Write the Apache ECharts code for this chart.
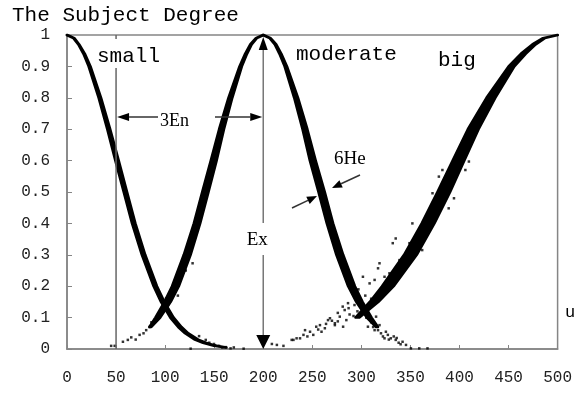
<!DOCTYPE html>
<html>
<head>
<meta charset="utf-8">
<script src="https://cdn.jsdelivr.net/npm/echarts@6/dist/echarts.min.js"></script>
<style>
html, body { margin: 0; padding: 0; background: #fff; }
#chart { width: 575px; height: 394px; }
</style>
</head>
<body>
<div id="chart"></div>
<script>
var degreeLevels = [1, 0.99, 0.97, 0.94, 0.9, 0.8, 0.7, 0.6, 0.5, 0.4, 0.3, 0.2, 0.15, 0.1, 0.07, 0.05, 0.03, 0.02, 0.01, 0.005];
// centre u of each band at those levels, and the band's width in u
var smallX = [0, 7, 12, 17.5, 23, 33.5, 42.5, 51, 59.5, 68, 78, 90, 97.5, 107, 115, 122, 132, 140, 151, 162];
var smallW = [0.5, 1, 1, 1.5, 2, 2.5, 3, 3.5, 3.5, 3.5, 3.5, 3.5, 3.5, 3.5, 3.5, 3.5, 3.5, 3, 2.5, 1];
var moderateLeftX = [200, 193, 187.5, 182.5, 177, 166.5, 157.5, 149.5, 141, 132.5, 122.5, 110.5, 102.5, 92.5, 85];
var moderateRightX = [200, 207, 212.5, 217.5, 223, 233.5, 242.5, 250.5, 259.5, 268, 278, 290, 298, 308, 316];
var moderateW = [0.5, 1, 1.5, 2, 2.5, 4, 5, 6, 6.5, 6.5, 7, 7, 6.5, 5, 2];
var bigX = [500, 486, 476, 465, 453, 432, 414, 399, 384, 368, 350, 327, 313, 296];
var bigW = [0.5, 2, 3.5, 5, 6, 9, 11, 12, 13, 13, 13, 12, 9, 4];

// loose drops outside the dense bands [u, degree]
var smallDrops = [[126, 0.001], [134.6, 0.041], [141.4, 0.029], [145, 0.02], [149.8, 0.016], [151, 0.012],
  [154.9, 0.01], [158.2, 0.005], [162, 0.006], [166.7, 0.002], [170, 0.005], [180, 0.001]];
var moderateDrops = [[45, 0.01], [48.6, 0.01], [57, 0.023], [62, 0.029], [65.5, 0.037], [70, 0.03], [74, 0.045],
  [78, 0.05], [80.7, 0.06], [84, 0.07], [86, 0.085], [89, 0.092], [94, 0.103], [96, 0.16], [98, 0.12],
  [101, 0.161], [103, 0.14], [106, 0.177], [107.6, 0.188], [111, 0.209], [113, 0.17], [116, 0.23],
  [121, 0.25], [128, 0.273], [290, 0.19], [295, 0.16], [302, 0.12], [305, 0.1], [306.7, 0.071],
  [310, 0.085], [312, 0.07], [313.5, 0.06], [315, 0.103], [317, 0.06], [318.5, 0.076], [320, 0.05],
  [322, 0.04], [323.6, 0.034], [325, 0.055], [327, 0.045], [328, 0.03], [330, 0.034], [333, 0.04],
  [335, 0.029], [336, 0.035], [338, 0.02], [340, 0.015], [342, 0.023], [345.5, 0.013], [350.5, 0.002],
  [359, 0.002], [367.4, 0.002]];
var bigDrops = [[208.8, 0.016], [213.9, 0.013], [220.6, 0.01], [229, 0.029], [230.8, 0.029], [234, 0.034],
  [237.5, 0.034], [241, 0.045], [242.6, 0.06], [245, 0.04], [247.7, 0.055], [251, 0.045], [254, 0.071],
  [256, 0.062], [257.8, 0.076], [259.4, 0.055], [262.8, 0.066], [264, 0.08], [266, 0.092], [268, 0.098],
  [270, 0.09], [273, 0.076], [273, 0.082], [276, 0.088], [276, 0.115], [278, 0.103], [281, 0.135],
  [281.4, 0.071], [283, 0.124], [284.7, 0.092], [286.4, 0.146], [287, 0.13], [288, 0.11], [291.5, 0.177],
  [292, 0.105], [293, 0.14], [296, 0.12], [297, 0.19], [299, 0.15], [301.6, 0.23], [304, 0.17], [306, 0.13],
  [308.4, 0.209], [310, 0.16], [313.5, 0.22], [317, 0.257], [318.5, 0.273], [323.6, 0.23], [328.6, 0.241],
  [332, 0.337], [335, 0.352], [338.8, 0.283], [349, 0.337], [352, 0.4], [362, 0.315], [372.5, 0.496],
  [379, 0.549], [382.6, 0.57], [389, 0.448], [392.7, 0.56], [394.4, 0.48], [397.8, 0.59], [406, 0.57],
  [409.6, 0.597]];

var monoFont = '"Liberation Mono", "DejaVu Sans Mono", monospace';
var serifFont = '"Liberation Serif", "DejaVu Serif", serif';
var axisGray = '#858585';

function bandSeries(xs, ws) {
  return {
    type: 'custom',
    silent: true,
    z: 3,
    data: [0],
    renderItem: function (params, api) {
      var pts = [];
      for (var i = 0; i < xs.length; i++) {
        pts.push(api.coord([xs[i] - ws[i] / 2, degreeLevels[i]]));
      }
      for (var j = xs.length - 1; j >= 0; j--) {
        pts.push(api.coord([xs[j] + ws[j] / 2, degreeLevels[j]]));
      }
      return {
        type: 'polygon',
        shape: { points: pts },
        style: { fill: '#000', stroke: '#000', lineWidth: 2.5, lineJoin: 'round' }
      };
    }
  };
}

function dropSeries(drops) {
  return {
    type: 'scatter',
    silent: true,
    z: 4,
    symbol: 'rect',
    symbolSize: 2.5,
    itemStyle: { color: '#000' },
    data: drops
  };
}

var chart = echarts.init(document.getElementById('chart'), null, { renderer: 'canvas' });

chart.setOption({
  animation: false,
  backgroundColor: '#fff',
  grid: { left: 67, right: 14, top: 35, bottom: 45, show: true, borderColor: axisGray, borderWidth: 1.5 },
  xAxis: {
    type: 'value', min: 0, max: 500, interval: 50,
    axisLine: { show: true, lineStyle: { color: axisGray, width: 1.5 } },
    axisTick: { show: true, inside: true, length: 4, lineStyle: { color: axisGray } },
    splitLine: { show: false },
    axisLabel: { margin: 21, color: '#222', fontFamily: monoFont, fontSize: 16 }
  },
  yAxis: {
    type: 'value', min: 0, max: 1, interval: 0.1,
    axisLine: { show: true, lineStyle: { color: axisGray, width: 1.5 } },
    axisTick: { show: true, inside: true, length: 5, lineStyle: { color: axisGray } },
    splitLine: { show: false },
    axisLabel: {
      margin: 17, color: '#222', fontFamily: monoFont, fontSize: 16,
      formatter: function (v) {
        if (v === 0) return '0';
        if (v === 1) return '1';
        return v.toFixed(1);
      }
    }
  },
  series: [
    bandSeries(smallX, smallW),
    bandSeries(moderateLeftX, moderateW),
    bandSeries(moderateRightX, moderateW),
    bandSeries(bigX, bigW),
    dropSeries(smallDrops),
    dropSeries(moderateDrops),
    dropSeries(bigDrops)
  ]
});

function arrow(x1, y1, x2, y2, len, half, color, width) {
  var dx = x2 - x1, dy = y2 - y1;
  var d = Math.sqrt(dx * dx + dy * dy);
  var ux = dx / d, uy = dy / d;
  var bx = x2 - ux * len, by = y2 - uy * len;
  return [
    { type: 'line', z: 10, shape: { x1: x1, y1: y1, x2: bx, y2: by }, style: { stroke: color, lineWidth: width } },
    { type: 'polygon', z: 10, shape: { points: [[x2, y2], [bx - uy * half, by + ux * half], [bx + uy * half, by - ux * half]] },
      style: { fill: '#000' } }
  ];
}

function label(text, x, y, font, size, align) {
  return {
    type: 'text', z: 11,
    style: { text: text, x: x, y: y, font: size + 'px ' + font, fill: '#000', align: align || 'left', verticalAlign: 'middle' }
  };
}

var p50 = chart.convertToPixel({ gridIndex: 0 }, [50, 0]);
var p200 = chart.convertToPixel({ gridIndex: 0 }, [200, 0]);
var pTop = chart.convertToPixel({ gridIndex: 0 }, [0, 1]);

var g = [];
// vertical line at u = 50
g.push({ type: 'line', z: 10, shape: { x1: p50[0], y1: 68, x2: p50[0], y2: p50[1] }, style: { stroke: '#666', lineWidth: 1.5 } });
g.push({ type: 'line', z: 10, shape: { x1: p50[0], y1: pTop[1], x2: p50[0], y2: pTop[1] + 4 }, style: { stroke: '#666', lineWidth: 1.5 } });
// Ex double arrow at u = 200
g = g.concat(arrow(p200[0], 223, p200[0], pTop[1] + 2, 13, 4.5, '#777', 1.5));
g = g.concat(arrow(p200[0], 255, p200[0], p200[1], 14, 7, '#777', 1.5));
// 3En arrows
g = g.concat(arrow(158, 117, p50[0] + 1, 117, 12, 4, '#333', 1.5));
g = g.concat(arrow(215, 117, p200[0] - 1, 117, 12, 4, '#333', 1.5));
// 6He arrows
g = g.concat(arrow(360, 175, 332, 188, 10, 4, '#333', 1.5));
g = g.concat(arrow(292, 208, 317, 196, 10, 4, '#333', 1.5));

g.push(label('The Subject Degree', 12, 15, monoFont, 21));
g.push(label('small', 97, 56, monoFont, 21));
g.push(label('moderate', 296, 54, monoFont, 21));
g.push(label('big', 438, 60, monoFont, 21));
g.push(label('u', 565, 312, monoFont, 17));
g.push(label('3En', 160, 121, serifFont, 18));
g.push(label('Ex', p200[0] - 6, 240, serifFont, 19, 'center'));
g.push(label('6He', 334, 159, serifFont, 19));

chart.setOption({ graphic: g });
</script>
</body>
</html>
